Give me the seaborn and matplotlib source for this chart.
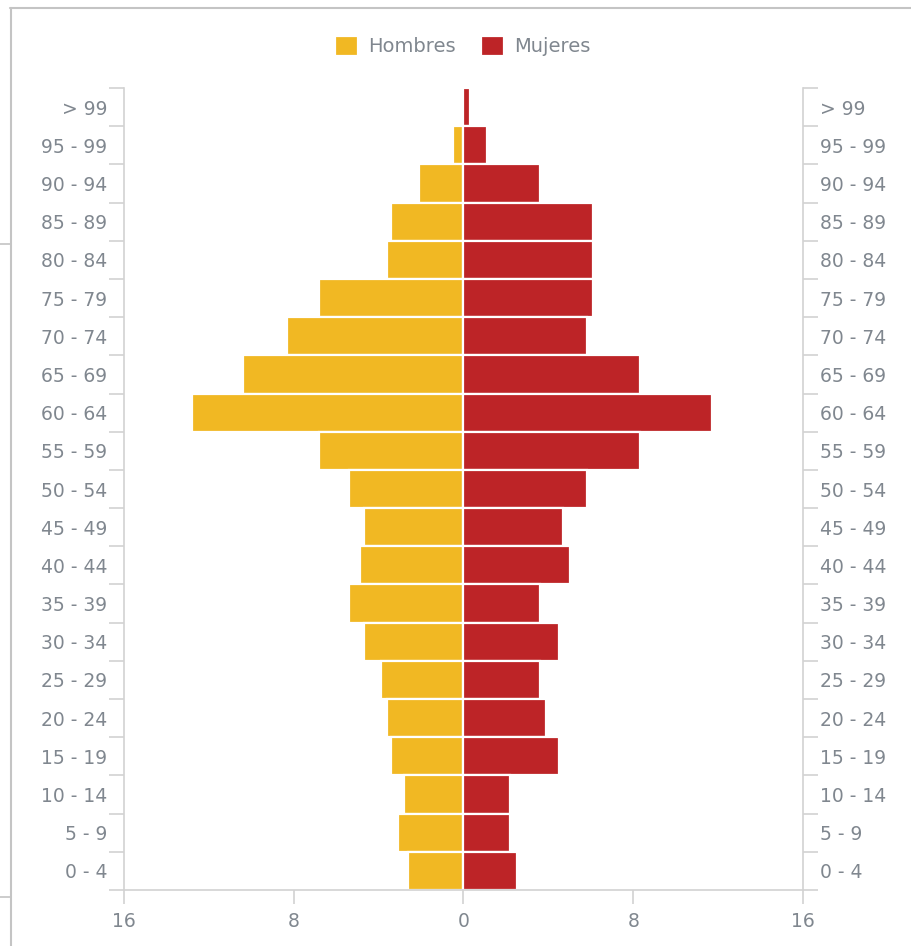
import matplotlib
matplotlib.use("Agg")
import matplotlib.pyplot as plt
import seaborn as sns
import pandas as pd
from matplotlib.ticker import FixedLocator
from matplotlib.lines import Line2D

age_groups = ["> 99", "95 - 99", "90 - 94", "85 - 89", "80 - 84", "75 - 79", "70 - 74",
              "65 - 69", "60 - 64", "55 - 59", "50 - 54", "45 - 49", "40 - 44", "35 - 39",
              "30 - 34", "25 - 29", "20 - 24", "15 - 19", "10 - 14", "5 - 9", "0 - 4"]
hombres = [0.0, 0.5, 2.1, 3.4, 3.6, 6.8, 8.3, 10.4, 12.8, 6.8, 5.4, 4.7, 4.9, 5.4,
           4.7, 3.9, 3.6, 3.4, 2.8, 3.1, 2.6]
mujeres = [0.3, 1.1, 3.6, 6.1, 6.1, 6.1, 5.8, 8.3, 11.7, 8.3, 5.8, 4.7, 5.0, 3.6,
           4.5, 3.6, 3.9, 4.5, 2.2, 2.2, 2.5]
series = ["Hombres", "Mujeres"]
colors = ["#f1b823", "#bd2427"]
xticks = [-16, -8, 0, 8, 16]
xtick_labels = ["16", "8", "0", "8", "16"]

df = pd.DataFrame({
    "age": age_groups * 2,
    "sexo": [series[0]] * len(age_groups) + [series[1]] * len(age_groups),
    "valor": [-v for v in hombres] + mujeres,
})

text_color = "#80878f"
axis_color = "#d2d2d2"

sns.set_theme(style="white")
plt.rcParams["font.family"] = ["DejaVu Sans"]

fig = plt.figure(figsize=(9.11, 9.46), dpi=100)
ax = fig.add_axes([124 / 911, 1 - 890 / 946, 679 / 911, 802 / 946])

sns.barplot(data=df, y="age", x="valor", hue="sexo", order=age_groups,
            hue_order=series, palette=colors, orient="h", dodge=False,
            width=1.0, edgecolor="white", linewidth=1.6, ax=ax, saturation=1)

ax.set_xlim(-16, 16)
ax.set_ylim(len(age_groups) - 0.5, -0.5)
ax.set_xlabel("")
ax.set_ylabel("")

ax.set_xticks(xticks)
ax.set_xticklabels(xtick_labels)
ax.yaxis.set_minor_locator(FixedLocator([i - 0.5 for i in range(len(age_groups) + 1)]))

ax.tick_params(axis="y", which="major", length=0, labelsize=13.5, labelcolor=text_color,
               left=False, right=False, labelleft=True, labelright=True, pad=12)
ax.tick_params(axis="y", which="minor", length=11, width=1.2, color=axis_color,
               left=True, right=True, direction="out")
ax.tick_params(axis="x", which="major", length=10, width=1.2, color=axis_color,
               labelsize=13.5, labelcolor=text_color, bottom=True, direction="out", pad=6)

for side in ["left", "right", "bottom"]:
    ax.spines[side].set_visible(True)
    ax.spines[side].set_color(axis_color)
    ax.spines[side].set_linewidth(1.2)
ax.spines["top"].set_visible(False)
ax.grid(False)

sns.move_legend(ax, "center", bbox_to_anchor=(0.508, 1 - 46 / 946),
                bbox_transform=fig.transFigure, ncol=2, frameon=False, title=None,
                fontsize=14, handlelength=1.2, handleheight=1.2, handletextpad=0.5,
                columnspacing=1.3)
for t in ax.get_legend().get_texts():
    t.set_color(text_color)

# outer frame
fig.add_artist(Line2D([10 / 911, 1], [1 - 8 / 946, 1 - 8 / 946], transform=fig.transFigure,
                      color="#c4c4c4", lw=1.5))
fig.add_artist(Line2D([11 / 911, 11 / 911], [0, 1 - 8 / 946], transform=fig.transFigure,
                      color="#c4c4c4", lw=1.5))
for yy in [244, 897]:
    fig.add_artist(Line2D([0, 11 / 911], [1 - yy / 946, 1 - yy / 946],
                          transform=fig.transFigure, color="#c4c4c4", lw=1.2))

fig.savefig("out.png", dpi=100, facecolor="white")
